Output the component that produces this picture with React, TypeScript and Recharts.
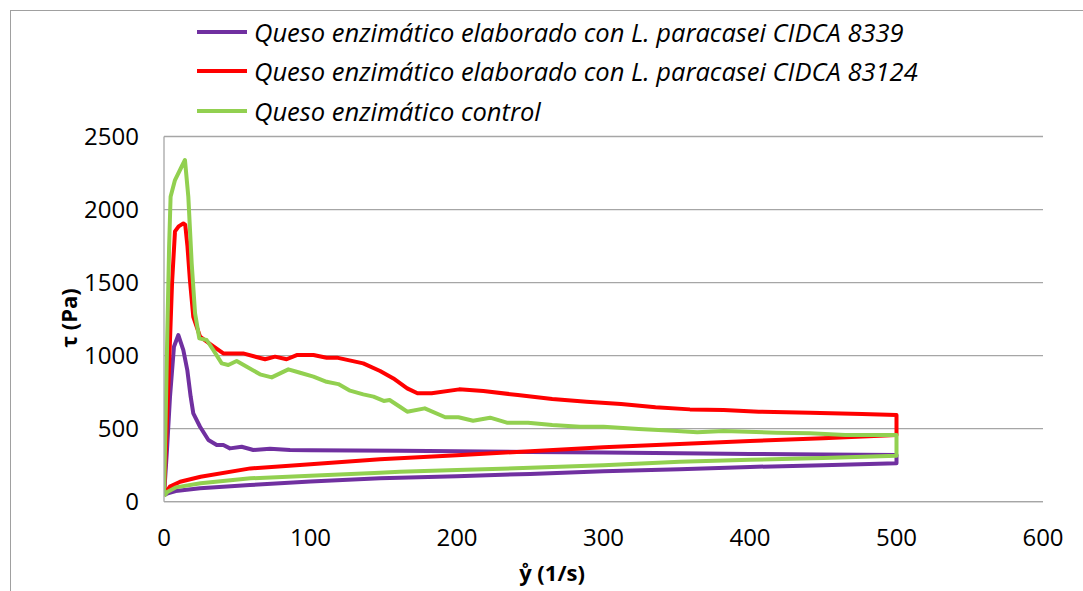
import React from 'react';
import { LineChart, Line, XAxis, YAxis, CartesianGrid, Legend, Label } from 'recharts';

type Pt = { x: number; y: number };

const xTicks = [0, 100, 200, 300, 400, 500, 600];
const yTicks = [0, 500, 1000, 1500, 2000, 2500];

const seriesNames = [
  'Queso enzimático elaborado con L. paracasei CIDCA 8339',
  'Queso enzimático elaborado con L. paracasei CIDCA 83124',
  'Queso enzimático control',
];
const seriesColors = ['#7030A0', '#FF0000', '#92D050'];

// CIDCA 8339: ascending ramp then descending ramp
const cidca8339Up: Pt[] = [
  { x: 0, y: 40 }, { x: 2, y: 350 }, { x: 4.1, y: 719 }, { x: 6.8, y: 1061 }, { x: 9.8, y: 1141 },
  { x: 13.2, y: 1038 }, { x: 15.9, y: 901 }, { x: 18.2, y: 719 }, { x: 20, y: 605 }, { x: 24.6, y: 513 },
  { x: 30.3, y: 422 }, { x: 36, y: 388 }, { x: 40.5, y: 388 }, { x: 45, y: 365 }, { x: 53, y: 376 },
  { x: 61, y: 354 }, { x: 72.4, y: 363 }, { x: 86, y: 354 }, { x: 100, y: 353 }, { x: 130, y: 351 },
  { x: 161, y: 349 }, { x: 200, y: 345 }, { x: 250, y: 340 }, { x: 300, y: 336 }, { x: 352, y: 331 },
  { x: 400, y: 327 }, { x: 450, y: 323 }, { x: 500, y: 320 },
];
const cidca8339Down: Pt[] = [
  { x: 500, y: 263 }, { x: 450, y: 250 }, { x: 400, y: 238 }, { x: 352, y: 222 }, { x: 300, y: 208 },
  { x: 250, y: 190 }, { x: 200, y: 175 }, { x: 147.5, y: 160 }, { x: 100, y: 138 }, { x: 58.7, y: 114 },
  { x: 24.6, y: 92 }, { x: 8, y: 73 }, { x: 2, y: 55 }, { x: 0.4, y: 46 }, { x: 0, y: 40 },
];

// CIDCA 83124
const cidca83124Up: Pt[] = [
  { x: 0, y: 40 }, { x: 3, y: 800 }, { x: 5.5, y: 1500 }, { x: 7.5, y: 1850 }, { x: 10, y: 1885 },
  { x: 13.2, y: 1905 }, { x: 14.5, y: 1895 }, { x: 16, y: 1750 }, { x: 17.7, y: 1517 }, { x: 20, y: 1266 },
  { x: 24.6, y: 1130 }, { x: 32.5, y: 1072 }, { x: 40.5, y: 1015 }, { x: 54, y: 1015 }, { x: 69, y: 975 },
  { x: 75.8, y: 993 }, { x: 83.7, y: 975 }, { x: 90.6, y: 1004 }, { x: 102, y: 1004 }, { x: 111, y: 986 },
  { x: 118, y: 986 }, { x: 136, y: 947 }, { x: 147.5, y: 895 }, { x: 156.6, y: 844 }, { x: 166, y: 776 },
  { x: 173, y: 742 }, { x: 182.7, y: 742 }, { x: 201.5, y: 769 }, { x: 218, y: 758 }, { x: 241.5, y: 730 },
  { x: 265, y: 703 }, { x: 288.5, y: 684 }, { x: 312, y: 669 }, { x: 335.5, y: 646 }, { x: 359, y: 632 },
  { x: 382, y: 628 }, { x: 406, y: 616 }, { x: 441, y: 609 }, { x: 476.5, y: 600 }, { x: 500, y: 593 },
];
const cidca83124Down: Pt[] = [
  { x: 500, y: 456 }, { x: 450, y: 435 }, { x: 400, y: 415 }, { x: 352, y: 395 }, { x: 300, y: 372 },
  { x: 250, y: 346 }, { x: 200, y: 318 }, { x: 147.5, y: 290 }, { x: 100, y: 257 }, { x: 59, y: 228 },
  { x: 25, y: 171 }, { x: 11, y: 137 }, { x: 4, y: 103 }, { x: 1, y: 60 }, { x: 0, y: 40 },
];

// Control
const controlUp: Pt[] = [
  { x: 0, y: 40 }, { x: 1, y: 500 }, { x: 2.3, y: 1175 }, { x: 3.5, y: 1750 }, { x: 4.5, y: 2088 },
  { x: 7.5, y: 2202 }, { x: 12, y: 2293 }, { x: 14.3, y: 2339 }, { x: 16.6, y: 2088 }, { x: 18.9, y: 1632 },
  { x: 21.2, y: 1289 }, { x: 24.1, y: 1118 }, { x: 29.1, y: 1107 }, { x: 33.7, y: 1038 }, { x: 39.4, y: 947 },
  { x: 43.9, y: 936 }, { x: 49.6, y: 963 }, { x: 56.5, y: 924 }, { x: 65.5, y: 872 }, { x: 73.5, y: 851 },
  { x: 84.9, y: 906 }, { x: 92.9, y: 883 }, { x: 102, y: 856 }, { x: 111, y: 821 }, { x: 119, y: 805 },
  { x: 127, y: 760 }, { x: 136, y: 735 }, { x: 143, y: 719 }, { x: 150, y: 690 }, { x: 154, y: 696 },
  { x: 161, y: 650 }, { x: 166, y: 616 }, { x: 178, y: 639 }, { x: 192, y: 578 }, { x: 201, y: 578 },
  { x: 211, y: 554 }, { x: 222.6, y: 575 }, { x: 234, y: 541 }, { x: 248.5, y: 541 }, { x: 265, y: 525 },
  { x: 284, y: 513 }, { x: 300, y: 513 }, { x: 324, y: 498 }, { x: 347.5, y: 486 }, { x: 364, y: 475 },
  { x: 382, y: 484 }, { x: 418, y: 472 }, { x: 441, y: 468 }, { x: 465, y: 456 }, { x: 500, y: 456 },
];
const controlDown: Pt[] = [
  { x: 500, y: 315 }, { x: 450, y: 300 }, { x: 400, y: 287 }, { x: 352, y: 274 }, { x: 300, y: 250 },
  { x: 250, y: 232 }, { x: 200, y: 217 }, { x: 161, y: 205 }, { x: 147.5, y: 199 }, { x: 100, y: 178 },
  { x: 59, y: 160 }, { x: 25, y: 126 }, { x: 8, y: 98 }, { x: 2.5, y: 68 }, { x: 0, y: 40 },
];

const seriesData: Pt[][] = [
  [...cidca8339Up, ...cidca8339Down],
  [...cidca83124Up, ...cidca83124Down],
  [...controlUp, ...controlDown],
];

const numFont = '"Open Sans", sans-serif';

const renderLegend = (props: any) => {
  const items = [...(props.payload || [])].sort(
    (a: any, b: any) => seriesNames.indexOf(a.value) - seriesNames.indexOf(b.value)
  );
  return (
    <div style={{ fontFamily: numFont, fontStyle: 'italic', fontSize: 25.5, color: '#000' }}>
      {items.map((p: any) => (
        <div key={p.value} style={{ display: 'flex', alignItems: 'center', height: 39.5, whiteSpace: 'nowrap' }}>
          <span style={{ display: 'inline-block', width: 50, height: 4, background: p.color, marginRight: 7 }} />
          <span>{p.value}</span>
        </div>
      ))}
    </div>
  );
};

export default function App() {
  return (
    <div style={{ position: 'fixed', left: 0, top: 0, width: 1083, height: 591, overflow: 'hidden', background: '#fff' }}>
      <div style={{ position: 'absolute', left: 10, top: 10, width: 1200, height: 700, border: '1px solid #A0A0A0' }} />
      <div style={{ position: 'absolute', left: 0, top: 0 }}>
        <LineChart width={1083} height={591} margin={{ top: 136.5, right: 40, bottom: 0, left: 0 }}>
          <CartesianGrid vertical={false} stroke="#A6A6A6" strokeWidth={1.3} />
          <XAxis
            type="number"
            dataKey="x"
            domain={[0, 600]}
            ticks={xTicks}
            allowDataOverflow
            height={89.3}
            tickSize={0}
            tickMargin={27}
            tickLine={false}
            axisLine={{ stroke: '#A6A6A6', strokeWidth: 1.3 }}
            tick={{ fill: '#000', fontSize: 24, fontFamily: numFont }}
          >
            <Label
              content={() => (
                <text x={552} y={581} textAnchor="middle" fontFamily={numFont} fontWeight="bold" fontSize={22} fill="#000">
                  ẙ (1/s)
                </text>
              )}
            />
          </XAxis>
          <YAxis
            type="number"
            domain={[0, 2500]}
            ticks={yTicks}
            width={164}
            tickSize={0}
            tickMargin={25}
            tickLine={false}
            axisLine={{ stroke: '#A6A6A6', strokeWidth: 1.3 }}
            tick={{ fill: '#000', fontSize: 24, fontFamily: numFont }}
          >
            <Label
              content={() => (
                <text
                  x={68}
                  y={318}
                  transform="rotate(-90 68 318)"
                  textAnchor="middle"
                  dominantBaseline="central"
                  fontFamily={numFont}
                  fontWeight="bold"
                  fontSize={22}
                  fill="#000"
                >
                  τ (Pa)
                </text>
              )}
            />
          </YAxis>
          <Legend
            layout="vertical"
            align="center"
            verticalAlign="middle"
            content={renderLegend}
            wrapperStyle={{ top: 12, left: 197, width: 880, height: 120 }}
          />
          {seriesData.map((d, i) => (
            <Line
              key={seriesNames[i]}
              data={d}
              dataKey="y"
              name={seriesNames[i]}
              type="linear"
              stroke={seriesColors[i]}
              strokeWidth={4}
              strokeLinejoin="round"
              dot={false}
              activeDot={false}
              isAnimationActive={false}
            />
          ))}
        </LineChart>
      </div>
    </div>
  );
}
